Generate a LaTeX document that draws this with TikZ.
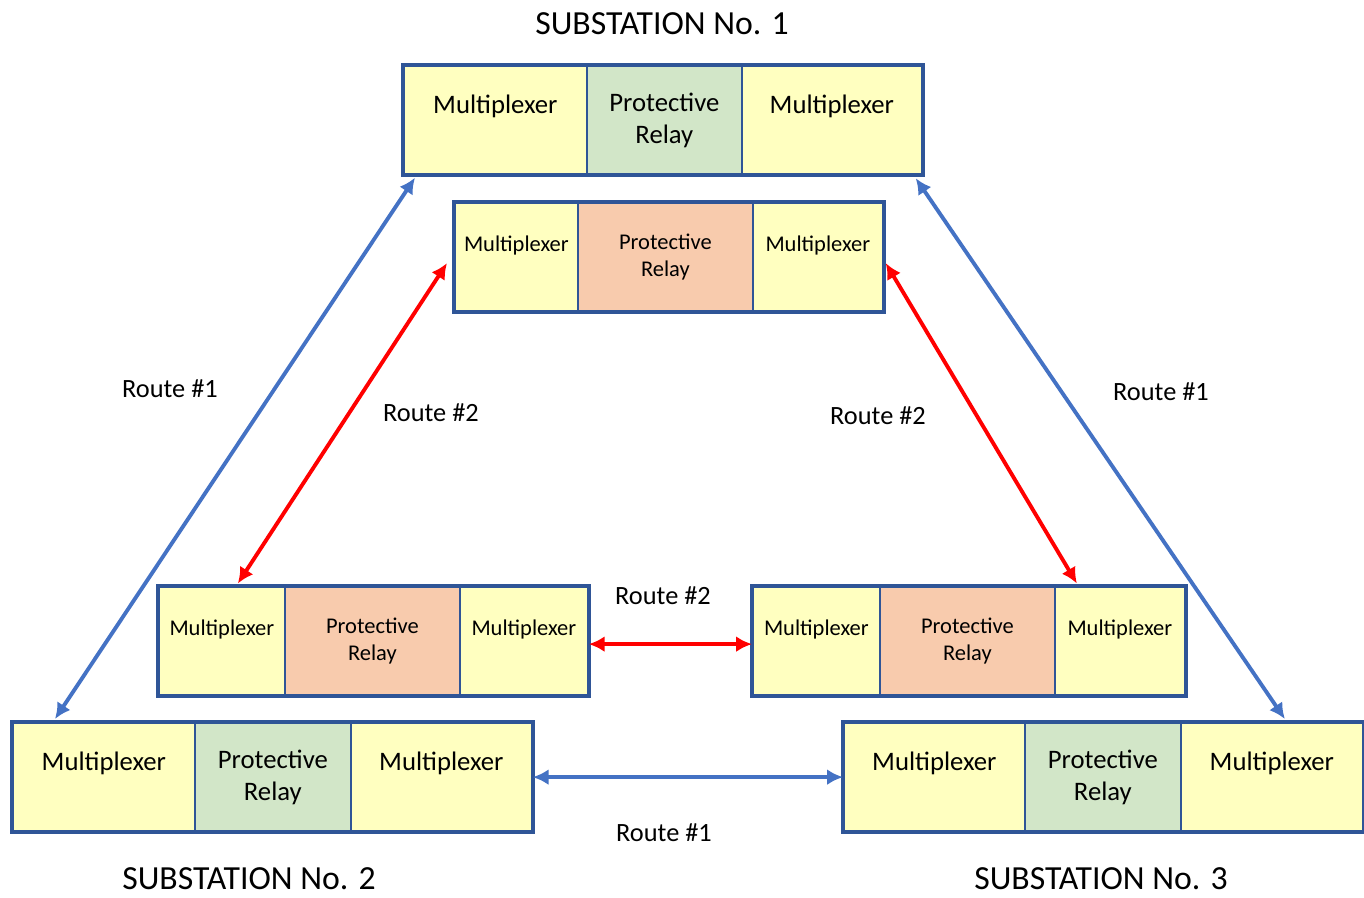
\documentclass[tikz,border=0pt]{standalone}
\usepackage{fontspec}
\setmainfont{Carlito}
\usetikzlibrary{arrows.meta}
\definecolor{boxblue}{HTML}{2F5597}
\definecolor{routeblue}{HTML}{4472C4}
\definecolor{muxyellow}{HTML}{FFFFC0}
\definecolor{relaygreen}{HTML}{D2E6C8}
\definecolor{relaypeach}{HTML}{F8CBAD}
\begin{document}
\begin{tikzpicture}[x=0.02cm, y=-0.02cm,
    cell/.style={draw=boxblue, line width=1pt, anchor=north west, inner sep=0pt,
        align=center, minimum height=2.17cm},
    big/.style={cell, font=\fontsize{15.2}{18.2}\selectfont},
    small/.style={cell, font=\fontsize{12.8}{15.4}\selectfont},
    mux/.style={fill=muxyellow},
    relay/.style={fill=relaygreen},
    relaytwo/.style={fill=relaypeach},
    frame/.style={draw=boxblue, line width=2.3pt},
    routeone/.style={draw=routeblue, line width=2.2pt, <->, >={Latex[length=9pt,width=9pt]}},
    routetwo/.style={routeone, draw=red},
    lbl/.style={font=\fontsize{15}{18}\selectfont},
    title/.style={font=\fontsize{19.2}{23}\selectfont, anchor=base, inner sep=0pt}]
    \useasboundingbox (0,0) rectangle (1364,898);

    % Substation 1, route #1 equipment
    \node[big, mux, minimum width=3.66cm] (s1a) at (403,65) {Multiplexer\\~};
    \node[big, relay, minimum width=3.10cm] (s1b) at (586,65) {Protective\\Relay};
    \node[big, mux, minimum width=3.60cm] (s1c) at (741,65) {Multiplexer\\~};
    \draw[frame] (s1a.north west) rectangle (s1c.south east);

    % Substation 1, route #2 equipment
    \node[small, mux, minimum width=2.46cm] (r1a) at (454,202) {Multiplexer\\~};
    \node[small, relaytwo, minimum width=3.50cm] (r1b) at (577,202) {Protective\\Relay};
    \node[small, mux, minimum width=2.60cm] (r1c) at (752,202) {Multiplexer\\~};
    \draw[frame] (r1a.north west) rectangle (r1c.south east);

    % Substation 2, route #2 equipment
    \node[small, mux, minimum width=2.52cm] (r2a) at (158,586) {Multiplexer\\~};
    \node[small, relaytwo, minimum width=3.50cm] (r2b) at (284,586) {Protective\\Relay};
    \node[small, mux, minimum width=2.56cm] (r2c) at (459,586) {Multiplexer\\~};
    \draw[frame] (r2a.north west) rectangle (r2c.south east);

    % Substation 3, route #2 equipment
    \node[small, mux, minimum width=2.54cm] (r3a) at (752,586) {Multiplexer\\~};
    \node[small, relaytwo, minimum width=3.50cm] (r3b) at (879,586) {Protective\\Relay};
    \node[small, mux, minimum width=2.60cm] (r3c) at (1054,586) {Multiplexer\\~};
    \draw[frame] (r3a.north west) rectangle (r3c.south east);

    % Substation 2, route #1 equipment
    \node[big, mux, minimum width=3.64cm] (s2a) at (12,722) {Multiplexer\\~};
    \node[big, relay, minimum width=3.12cm] (s2b) at (194,722) {Protective\\Relay};
    \node[big, mux, minimum width=3.62cm] (s2c) at (350,722) {Multiplexer\\~};
    \draw[frame] (s2a.north west) rectangle (s2c.south east);

    % Substation 3, route #1 equipment
    \node[big, mux, minimum width=3.62cm] (s3a) at (843,722) {Multiplexer\\~};
    \node[big, relay, minimum width=3.12cm] (s3b) at (1024,722) {Protective\\Relay};
    \node[big, mux, minimum width=3.64cm] (s3c) at (1180,722) {Multiplexer\\~};
    \draw[frame] (s3a.north west) rectangle (s3c.south east);

    % Route #1
    \draw[routeone] ([xshift=0.24cm, yshift=-0.05cm]s1a.south west) -- ([xshift=0.86cm, yshift=0.06cm]s2a.north west);
    \draw[routeone] ([xshift=-0.14cm, yshift=-0.06cm]s1c.south east) -- ([xshift=0.26cm, yshift=0.06cm]s3c.north);
    \draw[routeone] (s2c.east) -- (s3a.west);

    % Route #2
    \draw[routetwo] ([xshift=-0.14cm, yshift=-0.12cm]r1a.west) -- ([xshift=0.32cm, yshift=0.05cm]r2a.north);
    \draw[routetwo] ([xshift=0.04cm, yshift=-0.12cm]r1c.east) -- ([xshift=-0.86cm, yshift=0.05cm]r3c.north);
    \draw[routetwo] ([yshift=-0.06cm]r2c.east) -- ([yshift=-0.06cm]r3a.west);

    % labels
    \node[lbl] (l1) at (170,389) {Route \#1};
    \node[lbl] (l2) at (431,413) {Route \#2};
    \node[lbl] (l3) at (878,416) {Route \#2};
    \node[lbl] (l4) at (1161,392) {Route \#1};
    \node[lbl] (l5) at (663,596) {Route \#2};
    \node[lbl] (l6) at (664,833) {Route \#1};

    \node[title] (t1) at (662,35) {SUBSTATION No. 1};
    \node[title] (t2) at (249,889) {SUBSTATION No. 2};
    \node[title] (t3) at (1101,889) {SUBSTATION No. 3};
\end{tikzpicture}
\end{document}
